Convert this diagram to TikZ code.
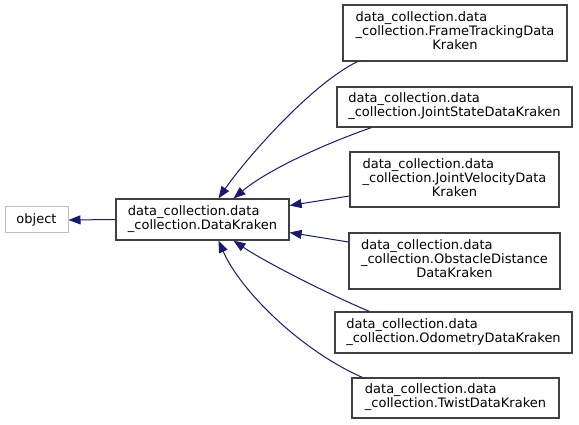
\documentclass[tikz,border=0pt]{standalone}
\usepackage{fontspec}
\setmainfont{DejaVu Sans}
\usetikzlibrary{arrows.meta,calc}
\definecolor{edgeblue}{HTML}{191970}
\definecolor{boxgray}{HTML}{404040}
\definecolor{lightgray}{HTML}{BFBFBF}
\newcommand{\twol}[2]{\begin{tabular}{@{}l@{}}#1\\#2\end{tabular}}
\newcommand{\threel}[3]{\begin{tabular}{@{}l@{}}#1\\#2\\\multicolumn{1}{@{}c@{}}{#3}\end{tabular}}
\begin{document}
\begin{tikzpicture}[x=1pt,y=-1pt,
  cls/.style={draw=boxgray,line width=1.2pt,fill=white,rectangle,inner sep=0pt,
    font=\fontsize{13}{14}\selectfont,align=center},
  root/.style={draw=lightgray,line width=1pt,fill=white,rectangle,inner sep=0pt,
    font=\fontsize{13}{14}\selectfont},
  edge/.style={draw=edgeblue,line width=1pt,-{Triangle[length=12pt,width=9pt]}}]
\useasboundingbox (0,0) rectangle (579,425);
\renewcommand{\arraystretch}{1}
\node[root,minimum width=63pt,minimum height=26pt] (obj) at (36.5,220) {object};
\node[cls,minimum width=173pt,minimum height=41pt] (dk) at (202.5,219.5)
  {\twol{data\_collection.data}{\_collection.DataKraken}};
\node[cls,minimum width=224pt,minimum height=56pt] (ft) at (455,33)
  {\threel{data\_collection.data}{\_collection.FrameTrackingData}{Kraken}};
\node[cls,minimum width=235pt,minimum height=40pt] (js) at (454.5,107)
  {\twol{data\_collection.data}{\_collection.JointStateDataKraken}};
\node[cls,minimum width=209pt,minimum height=55pt] (jv) at (454.5,179.5)
  {\threel{data\_collection.data}{\_collection.JointVelocityData}{Kraken}};
\node[cls,minimum width=211pt,minimum height=56pt] (od) at (454.5,261)
  {\threel{data\_collection.data}{\_collection.ObstacleDistance}{DataKraken}};
\node[cls,minimum width=237pt,minimum height=41pt] (odo) at (453.5,332.5)
  {\twol{data\_collection.data}{\_collection.OdometryDataKraken}};
\node[cls,minimum width=207pt,minimum height=40pt] (tw) at (455.5,398)
  {\twol{data\_collection.data}{\_collection.TwistDataKraken}};
% edges
\draw[edge] (dk.west) -- (obj.east);
\draw[edge] ($(ft.south west)+(15,0)$) .. controls (310,85) and (245,160) .. ($(dk.north)+(16,0)$);
\draw[edge] ($(js.south west)+(35,0)$) .. controls (330,142) and (270,168) .. ($(dk.north)+(31,0)$);
\draw[edge] ($(jv.west)+(0,16.5)$) -- ($(dk.east)+(0,-14)$);
\draw[edge] ($(od.west)+(0,-19)$) -- ($(dk.east)+(0,13)$);
\draw[edge] ($(odo.north west)+(35,0)$) .. controls (330,295) and (265,262) .. ($(dk.south)+(31,0)$);
\draw[edge] ($(tw.north west)+(11,0)$) .. controls (300,350) and (240,290) .. ($(dk.south)+(16,0)$);
\end{tikzpicture}
\end{document}
